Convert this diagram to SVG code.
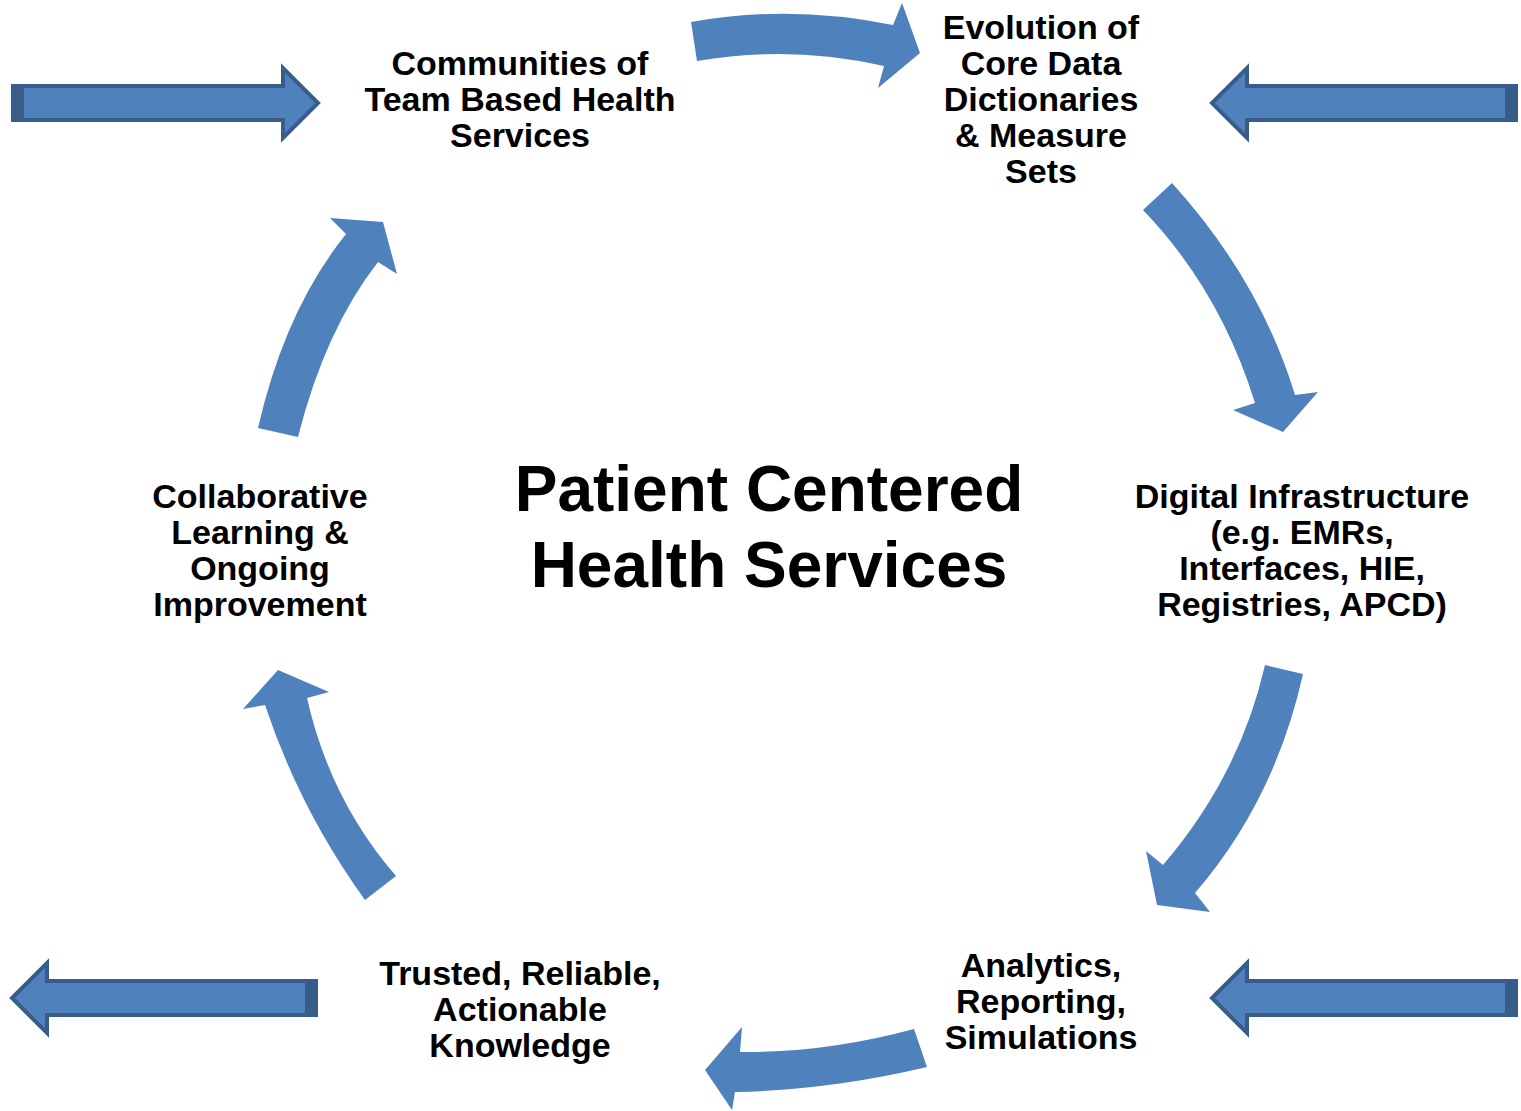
<svg xmlns="http://www.w3.org/2000/svg" width="1521" height="1111" viewBox="0 0 1521 1111">
<style>
.lbl{font-family:"Liberation Sans",Arial,sans-serif;font-weight:bold;font-size:34px;fill:#000;text-anchor:middle}
.title{font-family:"Liberation Sans",Arial,sans-serif;font-weight:bold;font-size:64px;fill:#000;text-anchor:middle}
.curve{fill:#4f81bd}
.block{fill:#4f81bd;stroke:#385d8a;stroke-width:4;stroke-linejoin:miter}
.cap{fill:#385d8a}
</style>
<rect width="1521" height="1111" fill="#fff"/>
<g id="connectors">
  <path class="curve" d="M691,22 Q790,4 893,25 L902,3 L920,53 L878,88 L884,66 Q790,45 697,61 Z"/>
  <path class="curve" d="M1172,183 Q1260,280 1295,395 L1318,392 L1283,432 L1233,410 L1255,403 Q1220,290 1143,210 Z"/>
  <path class="curve" d="M1303,674 Q1275,800 1195,893 L1210,912 L1157,905 L1146,851 L1163,865 Q1240,775 1265,665 Z"/>
  <path class="curve" d="M914,1029 Q825,1053 740,1052 L742,1027 L705,1070 L732,1110 L735,1092 Q830,1090 927,1067 Z"/>
  <path class="curve" d="M365,900 Q300,810 265,705 L243,709 L278,670 L329,692 L307,698 Q330,800 396,876 Z"/>
  <path class="curve" d="M258,428 Q285,310 346,234 L330,218 L383,222 L397,274 L378,262 Q325,330 298,437 Z"/>
  <g id="input-top-left">
    <path class="block" d="M13,86 L283,86 L283,68 L318,103 L283,138 L283,120 L13,120 Z"/>
    <rect class="cap" x="11" y="84" width="13" height="38"/>
  </g>
  <g id="input-top-right">
    <path class="block" d="M1516,86 L1247,86 L1247,68 L1212,103 L1247,138 L1247,120 L1516,120 Z"/>
    <rect class="cap" x="1505" y="84" width="13" height="38"/>
  </g>
  <g id="output-bottom-left">
    <path class="block" d="M316,981 L47,981 L47,963 L12,998 L47,1033 L47,1015 L316,1015 Z"/>
    <rect class="cap" x="305" y="979" width="13" height="38"/>
  </g>
  <g id="input-bottom-right">
    <path class="block" d="M1516,981 L1247,981 L1247,963 L1212,998 L1247,1033 L1247,1015 L1516,1015 Z"/>
    <rect class="cap" x="1505" y="979" width="13" height="38"/>
  </g>
</g>
<g id="node-communities">
  <text class="lbl" x="520" y="75">Communities of</text>
  <text class="lbl" x="520" y="111">Team Based Health</text>
  <text class="lbl" x="520" y="147">Services</text>
</g>
<g id="node-evolution">
  <text class="lbl" x="1041" y="39">Evolution of</text>
  <text class="lbl" x="1041" y="75">Core Data</text>
  <text class="lbl" x="1041" y="111">Dictionaries</text>
  <text class="lbl" x="1041" y="147">&amp; Measure</text>
  <text class="lbl" x="1041" y="183">Sets</text>
</g>
<g id="node-digital">
  <text class="lbl" x="1302" y="508">Digital Infrastructure</text>
  <text class="lbl" x="1302" y="544">(e.g. EMRs,</text>
  <text class="lbl" x="1302" y="580">Interfaces, HIE,</text>
  <text class="lbl" x="1302" y="616">Registries, APCD)</text>
</g>
<g id="node-analytics">
  <text class="lbl" x="1041" y="977">Analytics,</text>
  <text class="lbl" x="1041" y="1013">Reporting,</text>
  <text class="lbl" x="1041" y="1049">Simulations</text>
</g>
<g id="node-trusted">
  <text class="lbl" x="520" y="985">Trusted, Reliable,</text>
  <text class="lbl" x="520" y="1021">Actionable</text>
  <text class="lbl" x="520" y="1057">Knowledge</text>
</g>
<g id="node-collaborative">
  <text class="lbl" x="260" y="508">Collaborative</text>
  <text class="lbl" x="260" y="544">Learning &amp;</text>
  <text class="lbl" x="260" y="580">Ongoing</text>
  <text class="lbl" x="260" y="616">Improvement</text>
</g>
<g id="node-center">
  <text class="title" x="769" y="511">Patient Centered</text>
  <text class="title" x="769" y="587">Health Services</text>
</g>
</svg>
